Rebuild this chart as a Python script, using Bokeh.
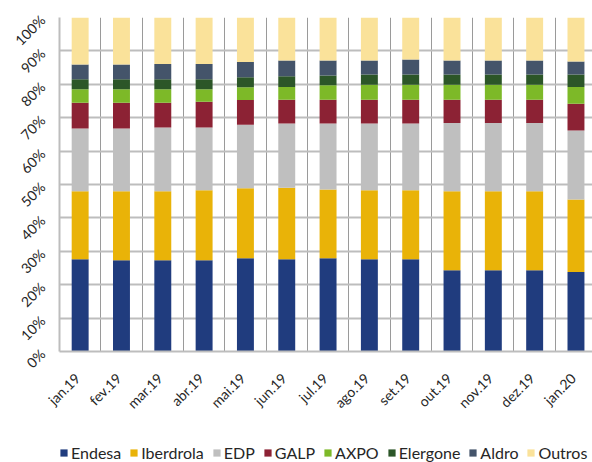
import math
from bokeh.plotting import figure
from bokeh.layouts import column
from bokeh.models import (ColumnDataSource, FixedTicker, PrintfTickFormatter, Legend,
                          LegendItem, Range1d)
from bokeh.embed import file_html
from bokeh.resources import INLINE

months = ["jan.19", "fev.19", "mar.19", "abr.19", "mai.19", "jun.19", "jul.19",
          "ago.19", "set.19", "out.19", "nov.19", "dez.19", "jan.20"]
endesa    = [27.6, 27.3, 27.3, 27.3, 27.9, 27.6, 27.9, 27.6, 27.6, 24.3, 24.3, 24.3, 23.8]
iberdrola = [20.4, 20.7, 20.7, 21.0, 21.0, 21.4, 20.6, 20.7, 20.7, 23.7, 23.7, 23.7, 21.7]
edp       = [18.8, 18.8, 19.1, 18.8, 19.0, 19.3, 19.8, 20.0, 20.0, 20.4, 20.4, 20.4, 20.7]
galp      = [7.7, 7.7, 7.4, 7.7, 7.4, 7.1, 7.1, 7.1, 7.1, 7.0, 7.0, 7.0, 8.0]
axpo      = [4.0, 4.0, 4.0, 3.7, 3.8, 3.8, 4.3, 4.5, 4.5, 4.5, 4.5, 4.5, 5.0]
elergone  = [3.0, 3.0, 3.0, 3.0, 3.0, 3.2, 2.9, 3.0, 3.0, 3.0, 3.0, 3.0, 3.7]
aldro     = [4.4, 4.4, 4.6, 4.6, 4.6, 4.7, 4.5, 4.2, 4.5, 4.2, 4.2, 4.2, 3.9]
outros    = [14.1, 14.1, 13.9, 13.9, 13.3, 12.9, 12.9, 12.9, 12.6, 12.9, 12.9, 12.9, 13.2]

series = ["Endesa", "Iberdrola", "EDP", "GALP", "AXPO", "Elergone", "Aldro", "Outros"]
colors = ["#203c7e", "#e9b308", "#bfbfbf", "#8c2234", "#7db928", "#2c5628", "#44546a", "#fae29a"]
y_ticks = [0, 10, 20, 30, 40, 50, 60, 70, 80, 90, 100]

src = ColumnDataSource(dict(
    x=list(range(len(months))),
    Endesa=endesa, Iberdrola=iberdrola, EDP=edp, GALP=galp,
    AXPO=axpo, Elergone=elergone, Aldro=aldro, Outros=outros,
))

p = figure(width=592, height=439, output_backend="svg", toolbar_location=None,
           x_range=Range1d(-0.5, 12.4), y_range=Range1d(0, 100),
           min_border_left=59, min_border_right=0, min_border_top=17, min_border_bottom=88)

rends = p.vbar_stack(series, x="x", width=0.41, color=colors, line_color=None, source=src)

font = "Lato"
# labels end at the category centre: shift the (invisible) ticks slightly left
label_shift = 0.07
x_ticks = [round(i - label_shift, 2) for i in range(len(months))]
p.xaxis.ticker = FixedTicker(ticks=x_ticks)
p.xaxis.major_label_overrides = {t: m for t, m in zip(x_ticks, months)}
p.xaxis.major_label_orientation = math.pi / 4
p.yaxis.ticker = FixedTicker(ticks=y_ticks)
p.yaxis.formatter = PrintfTickFormatter(format="%d%%")
p.yaxis.major_label_orientation = math.pi / 4
for ax in (p.xaxis, p.yaxis):
    ax.major_label_text_font = font
    ax.major_label_text_font_size = "14px"
    ax.major_label_text_color = "#262626"
    ax.major_tick_line_color = None
    ax.minor_tick_line_color = None
    ax.axis_line_color = "#bdbdbd"
    ax.axis_line_width = 2
p.xaxis.major_label_standoff = 18
p.yaxis.major_label_standoff = 11

p.xgrid.ticker = FixedTicker(ticks=[i + 0.5 for i in range(len(months))])
p.xgrid.grid_line_color = "#9a9a9a"
p.xgrid.grid_line_width = 1
p.ygrid.ticker = FixedTicker(ticks=y_ticks)
p.ygrid.grid_line_color = "#bdbdbd"
p.ygrid.grid_line_width = 2
p.outline_line_color = None

# legend strip (its bars fall outside its own x range, only the legend shows)
lg = figure(width=592, height=23, output_backend="svg", toolbar_location=None,
            x_range=Range1d(-100, -99), y_range=Range1d(0, 100),
            x_axis_location=None, y_axis_location=None, min_border=0)
lg.grid.visible = False
lg.outline_line_color = None
swatches = lg.vbar_stack(series, x="x", width=0.41, color=colors, line_color=None, source=src)
legend = Legend(items=[LegendItem(label=s, renderers=[r]) for s, r in zip(series, swatches)],
                orientation="horizontal", location=(0, 0),
                label_text_font=font, label_text_font_size="16px", label_text_color="#262626",
                glyph_width=9, glyph_height=9, label_standoff=3, spacing=8,
                padding=0, margin=0, border_line_color=None, background_fill_alpha=0)
lg.add_layout(legend, "center")

layout = column(p, lg, spacing=0)
open("out.html", "w").write(file_html(layout, INLINE))
